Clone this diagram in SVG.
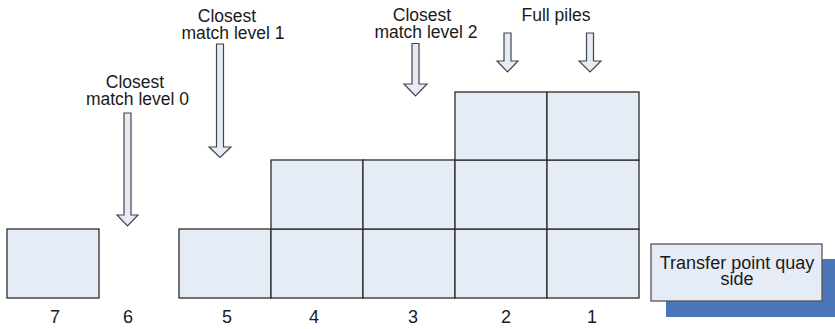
<svg xmlns="http://www.w3.org/2000/svg" width="835" height="329" viewBox="0 0 835 329">
<style>
.cell{fill:#e6ecf6;stroke:#2b2b2b;stroke-width:1.3}
.arr{fill:#e6ecf6;stroke:#444;stroke-width:1.2;stroke-linejoin:miter}
.t{font-family:"Liberation Sans",Arial,sans-serif;font-size:17.5px;fill:#1a1a1a;text-anchor:middle}
.n{font-family:"Liberation Sans",Arial,sans-serif;font-size:18px;fill:#1a1a1a;text-anchor:middle}
.tp{font-family:"Liberation Sans",Arial,sans-serif;font-size:18px;fill:#1a1a1a;text-anchor:middle}
</style>
<rect width="835" height="329" fill="#ffffff"/>
<g id="pile7"><rect class="cell" x="7" y="229" width="92" height="69"/></g>
<g id="pile5"><rect class="cell" x="179" y="229" width="92" height="69"/></g>
<g id="pile4"><rect class="cell" x="271" y="229" width="92" height="69"/><rect class="cell" x="271" y="160" width="92" height="69"/></g>
<g id="pile3"><rect class="cell" x="363" y="229" width="92" height="69"/><rect class="cell" x="363" y="160" width="92" height="69"/></g>
<g id="pile2"><rect class="cell" x="455" y="229" width="92" height="69"/><rect class="cell" x="455" y="160" width="92" height="69"/><rect class="cell" x="455" y="92" width="92" height="68"/></g>
<g id="pile1"><rect class="cell" x="547" y="229" width="92" height="69"/><rect class="cell" x="547" y="160" width="92" height="69"/><rect class="cell" x="547" y="92" width="92" height="68"/></g>
<g id="transfer">
<rect x="666" y="259" width="170" height="58" fill="#4a76b9"/>
<rect x="651" y="244" width="171" height="57" fill="#e6ecf6" stroke="#555" stroke-width="1.3"/>
<text class="tp" x="737" y="269">Transfer point quay</text>
<text class="tp" x="737" y="285">side</text>
</g>
<g id="labels">
<text class="n" x="55" y="323">7</text>
<text class="n" x="128" y="323">6</text>
<text class="n" x="227" y="323">5</text>
<text class="n" x="314" y="323">4</text>
<text class="n" x="413" y="323">3</text>
<text class="n" x="506" y="323">2</text>
<text class="n" x="592" y="323">1</text>
</g>
<g id="connectors">
<path class="arr" d="M124,113 H131 V215 H138 L127.5,226 L117,215 H124 Z"/>
<path class="arr" d="M216.5,44 H223.5 V147 H231 L220,157.5 L209,147 H216.5 Z"/>
<path class="arr" d="M412,43.5 H419 V84 H427 L415.5,96 L404,84 H412 Z"/>
<path class="arr" d="M504,33 H511 V61 H518 L507.5,72 L497,61 H504 Z"/>
<path class="arr" d="M586.5,33 H593.5 V61 H601 L590,72 L579,61 H586.5 Z"/>
</g>
<g id="annotations">
<text class="t" x="135" y="88">Closest</text>
<text class="t" x="137.5" y="105">match level 0</text>
<text class="t" x="227" y="22">Closest</text>
<text class="t" x="233" y="38.5">match level 1</text>
<text class="t" x="422" y="21">Closest</text>
<text class="t" x="426" y="37.5">match level 2</text>
<text class="t" x="556" y="21">Full piles</text>
</g>
</svg>
